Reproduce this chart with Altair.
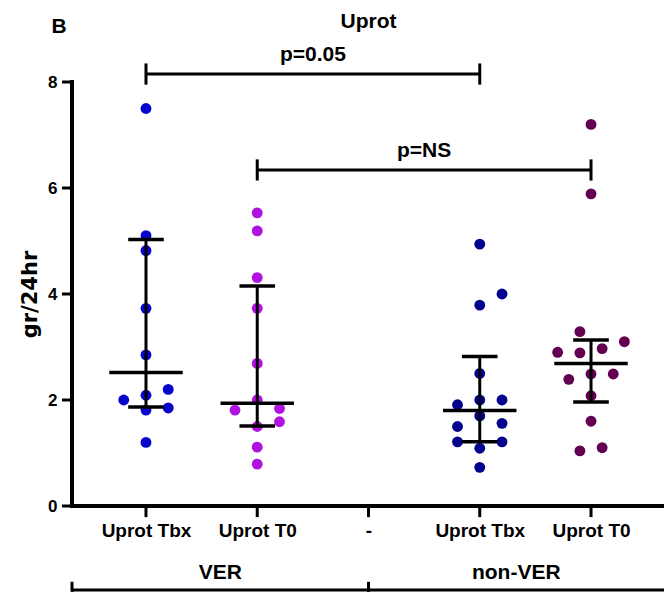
import json
import altair as alt
import pandas as pd

# ---- data ----
positions = [1, 2, 3, 4, 5]
tick_labels = ["Uprot Tbx", "Uprot T0", "-", "Uprot Tbx", "Uprot T0"]
y_ticks = [0, 2, 4, 6, 8]

g1_vals = [7.50, 5.10, 4.82, 3.73, 2.85, 2.20, 2.09, 2.00, 1.85, 1.81, 1.20]
g1_slot = [0, 0, 0, 0, 0, 2, 0, -2, 2, 0, 0]
g2_vals = [5.53, 5.19, 4.31, 3.73, 2.69, 2.00, 1.84, 1.81, 1.59, 1.50, 1.11, 0.79]
g2_slot = [0, 0, 0, 0, 0, 0, 2, -2, 2, 0, 0, 0]
g4_vals = [4.94, 4.00, 3.79, 2.50, 2.00, 2.00, 1.91, 1.70, 1.56, 1.50, 1.21, 1.21, 1.09, 0.73]
g4_slot = [0, 2, 0, 0, 0, 2, -2, 0, 2, -2, -2, 2, 0, 0]
g5_vals = [7.20, 5.89, 3.29, 3.10, 2.97, 2.90, 2.89, 2.49, 2.49, 2.39, 2.08, 1.60, 1.10, 1.04]
g5_slot = [0, 0, -1, 3, 1, -3, -1, 0, 2, -2, 0, 0, 1, -1]

group_pos = [1, 2, 4, 5]
group_key = ["VER Tbx", "VER T0", "nonVER Tbx", "nonVER T0"]
group_colors = ["#0505CC", "#B012E0", "#02028C", "#640052"]
medians = [2.52, 1.94, 1.80, 2.69]
q1s = [1.87, 1.51, 1.21, 1.96]
q3s = [5.03, 4.15, 2.82, 3.13]

brackets_x1 = [1, 2]
brackets_x2 = [4, 5]
brackets_y = [8.15, 6.34]
brackets_label = ["p=0.05", "p=NS"]

group_names = ["VER", "non-VER"]

FONT = "Liberation Sans"
XMIN, XMAX = 0.335, 5.656

# ---- tables ----
rows = []
for pos, key, vals, slots in zip(group_pos, group_key,
                                 [g1_vals, g2_vals, g4_vals, g5_vals],
                                 [g1_slot, g2_slot, g4_slot, g5_slot]):
    for v, s in zip(vals, slots):
        rows.append({"pos": pos, "group": key, "value": v, "slot": s})
pts = pd.DataFrame(rows)

stats = pd.DataFrame({"pos": group_pos, "median": medians, "q1": q1s, "q3": q3s})
br = pd.DataFrame({"x1": brackets_x1, "x2": brackets_x2, "y": brackets_y,
                   "label": brackets_label})

xscale = alt.Scale(domain=[XMIN, XMAX], nice=False, zero=False)
yscale = alt.Scale(domain=[0, 8], nice=False)

label_expr = f"{json.dumps(tick_labels)}[datum.value - 1]"

x_axis = alt.Axis(
    values=positions, labelExpr=label_expr, title=None, grid=False,
    domain=False, ticks=False,
    labelFont=FONT, labelFontSize=19, labelFontWeight="bold", labelColor="#000000",
    labelPadding=15)
y_axis = alt.Axis(
    values=y_ticks, title="gr/24hr", grid=False,
    domain=False, ticks=False,
    labelFont=FONT, labelFontSize=17, labelFontWeight="bold", labelColor="#000000",
    labelPadding=15,
    titleFont="DejaVu Sans", titleFontSize=21, titleFontWeight="bold",
    titleColor="#000000", titlePadding=7)


def X(f):
    return alt.X(f, scale=xscale, axis=x_axis)


def Y(f):
    return alt.Y(f, scale=yscale, axis=y_axis)


points = alt.Chart(pts).transform_calculate(
    xp="datum.pos + datum.slot * 0.1"
).mark_circle(size=118, opacity=1, clip=False).encode(
    x=X("xp:Q"), y=Y("value:Q"),
    color=alt.Color("group:N", scale=alt.Scale(domain=group_key, range=group_colors),
                    legend=None),
)

# axis lines and ticks drawn as rules from the tick lists
axis_y_line = alt.Chart(pd.DataFrame({"a": [XMIN], "lo": [0], "hi": [max(y_ticks)]})).mark_rule(
    color="black", strokeWidth=4, strokeCap="square", clip=False).encode(
    x=X("a:Q"), y=Y("lo:Q"), y2="hi:Q")
axis_x_line = alt.Chart(pd.DataFrame({"a": [XMIN], "b": [XMAX], "y": [0]})).mark_rule(
    color="black", strokeWidth=4, strokeCap="square", clip=False).encode(
    x=X("a:Q"), x2="b:Q", y=Y("y:Q"))
y_tick_marks = alt.Chart(pd.DataFrame({"v": y_ticks})).transform_calculate(
    a=f"{XMIN} - 0.09", b=f"{XMIN}").mark_rule(
    color="black", strokeWidth=3, clip=False).encode(
    x=X("a:Q"), x2="b:Q", y=Y("v:Q"))
x_tick_marks = alt.Chart(pd.DataFrame({"p": positions})).transform_calculate(
    lo="-0.21", hi="0").mark_rule(
    color="black", strokeWidth=3, clip=False).encode(
    x=X("p:Q"), y=Y("lo:Q"), y2="hi:Q")

base_stats = alt.Chart(stats)
vline = base_stats.mark_rule(color="black", strokeWidth=3, clip=False).encode(
    x=X("pos:Q"), y=Y("q1:Q"), y2="q3:Q")
med = base_stats.transform_calculate(a="datum.pos - 0.33", b="datum.pos + 0.33").mark_rule(
    color="black", strokeWidth=3.5, clip=False).encode(
    x=X("a:Q"), x2="b:Q", y=Y("median:Q"))
cap_lo = base_stats.transform_calculate(a="datum.pos - 0.16", b="datum.pos + 0.16").mark_rule(
    color="black", strokeWidth=3.5, clip=False).encode(
    x=X("a:Q"), x2="b:Q", y=Y("q1:Q"))
cap_hi = base_stats.transform_calculate(a="datum.pos - 0.16", b="datum.pos + 0.16").mark_rule(
    color="black", strokeWidth=3.5, clip=False).encode(
    x=X("a:Q"), x2="b:Q", y=Y("q3:Q"))

base_br = alt.Chart(br)
br_h = base_br.mark_rule(color="black", strokeWidth=3, clip=False).encode(
    x=X("x1:Q"), x2="x2:Q", y=Y("y:Q"))
br_l = base_br.transform_calculate(a="datum.y - 0.2", b="datum.y + 0.2").mark_rule(
    color="black", strokeWidth=3, clip=False).encode(
    x=X("x1:Q"), y=Y("a:Q"), y2="b:Q")
br_r = base_br.transform_calculate(a="datum.y - 0.2", b="datum.y + 0.2").mark_rule(
    color="black", strokeWidth=3, clip=False).encode(
    x=X("x2:Q"), y=Y("a:Q"), y2="b:Q")
br_t = base_br.transform_calculate(xm="(datum.x1 + datum.x2) / 2", ym="datum.y + 0.25").mark_text(
    font=FONT, fontSize=21, fontWeight="bold", color="black", baseline="alphabetic",
    clip=False).encode(
    x=X("xm:Q"), y=Y("ym:Q"), text="label:N")

# group labels under the axis
grp = pd.DataFrame({"name": group_names, "a": [XMIN, 3], "b": [3, XMAX]})
grp_text = alt.Chart(grp).transform_calculate(xm="(datum.a + datum.b) / 2", ym="-1.38").mark_text(
    font=FONT, fontSize=21, fontWeight="bold", color="black", baseline="alphabetic",
    clip=False).encode(
    x=X("xm:Q"), y=Y("ym:Q"), text="name:N")
grp_line = alt.Chart(pd.DataFrame({"a": [XMIN], "b": [XMAX]})).transform_calculate(
    ym="-1.585").mark_rule(color="black", strokeWidth=3, clip=False).encode(
    x=X("a:Q"), x2="b:Q", y=Y("ym:Q"))
grp_ticks = alt.Chart(pd.DataFrame({"a": [XMIN, 3]})).transform_calculate(
    y1="-1.62", y2="-1.43").mark_rule(color="black", strokeWidth=3, clip=False).encode(
    x=X("a:Q"), y=Y("y1:Q"), y2="y2:Q")

# headings
title_text = alt.Chart(pd.DataFrame({"t": ["Uprot"], "x": [3.0], "y": [9.01]})).mark_text(
    font=FONT, fontSize=21, fontWeight="bold", color="black", baseline="alphabetic",
    clip=False).encode(
    x=X("x:Q"), y=Y("y:Q"), text="t:N")
panel_text = alt.Chart(pd.DataFrame({"t": ["B"], "x": [0.218], "y": [8.93]})).mark_text(
    font=FONT, fontSize=21, fontWeight="bold", color="black", baseline="alphabetic",
    clip=False).encode(
    x=X("x:Q"), y=Y("y:Q"), text="t:N")

chart = alt.layer(
    points, axis_y_line, axis_x_line, y_tick_marks, x_tick_marks,
    vline, med, cap_lo, cap_hi, br_h, br_l, br_r, br_t,
    grp_text, grp_line, grp_ticks, title_text, panel_text
).properties(
    width=592, height=424,
    autosize=alt.AutoSizeParams(type="none"),
    padding={"left": 72, "top": 82, "right": 0, "bottom": 86},
    background="white",
).configure_view(stroke=None, clip=False)

chart.save("out.html", embed_options={"renderer": "svg", "actions": False})
